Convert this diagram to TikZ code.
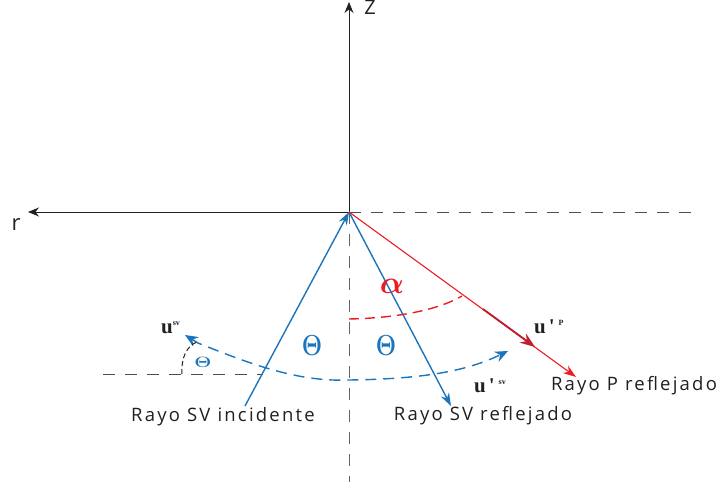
\RequirePackage{fix-cm}
\documentclass[tikz,border=0pt]{standalone}
\usepackage{amsmath}
\usepackage{fontspec}
\setmainfont{Open Sans}
\newfontfamily\serifu{Liberation Serif}
\usetikzlibrary{arrows.meta}
\definecolor{myblue}{HTML}{1B75BC}
\definecolor{myred}{HTML}{ED1C24}
\definecolor{mydred}{HTML}{BE1E2D}
\definecolor{axisc}{HTML}{231F20}
\begin{document}
\begin{tikzpicture}[x=1pt,y=-1pt,
  axis/.style={draw=axisc,line width=1pt,-{Stealth[length=11pt,width=9pt]}},
  guide/.style={draw=axisc!80,line width=1pt,dash pattern=on 12pt off 10pt},
  bluray/.style={draw=myblue,line width=1.4pt,-{Stealth[length=13pt,width=9pt]}},
  redray/.style={draw=myred,line width=1.1pt,-{Stealth[length=13pt,width=9pt]}},
  lbl/.style={font=\fontsize{18.5}{20}\selectfont\addfontfeatures{LetterSpace=12},text=axisc,inner sep=0pt},
  vec/.style={font=\serifu\bfseries\fontsize{21}{21}\selectfont,text=axisc,inner sep=0pt},
  bigth/.style={text=myblue,inner sep=0pt,font=\fontsize{29}{29}\selectfont}
]
\useasboundingbox (0,0) rectangle (725,489);
\coordinate (O) at (349,212);
\coordinate (Ztop) at (349,2);
\coordinate (rend) at (28,212);
\coordinate (dashR) at (700,212);
\coordinate (dashD) at (349,482);
\coordinate (inc) at (245,406);
\coordinate (refl) at (451,406);
\coordinate (pend) at (576,377);
\coordinate (uPa) at (483,309);
\coordinate (uPb) at (535,347);
\coordinate (hA) at (103,374);
\coordinate (hB) at (263,374);
\coordinate (usv) at (185,335);
\coordinate (usvB) at (508,351);
\coordinate (bot) at (349,380);
\coordinate (arcA) at (349,319);
\coordinate (arcB) at (462,296);
\coordinate (tA) at (182,374);
\coordinate (tB) at (197,342);

% axes
\draw[axis] (O) -- (Ztop);
\draw[axis] (O) -- (rend);
\draw[guide] (O) -- (dashR);
\draw[guide,draw=axisc!70] (O) -- (dashD);
\draw[guide] (hA) -- (hB);

% rays
\draw[bluray] (inc) -- (O);
\draw[bluray] (O) -- (refl);
\draw[redray] (O) -- (pend);
\draw[draw=mydred,line width=1.8pt,-{Stealth[length=15pt,width=11pt]}] (uPa) -- (uPb);

% angle arcs
\draw[myred,line width=1.4pt,dash pattern=on 10pt off 6pt] (arcA) .. controls (400,318) and (440,309) .. (arcB);
\draw[myblue,line width=1.4pt,dash pattern=on 11pt off 7pt,{Stealth[length=13pt,width=11pt]}-{Stealth[length=13pt,width=11pt]}]
  (usv) -- (198,343) .. controls (255,366) and (300,382) .. (bot) .. controls (420,379) and (465,372) .. (usvB);
\draw[axisc,line width=1pt,dash pattern=on 5pt off 3pt] (tA) .. controls (181,357) and (187,346) .. (tB);

% labels
\node[font=\fontsize{20}{20}\selectfont,text=axisc,inner sep=0pt] (zl) at (370,7) {Z};
\node[font=\fontsize{22}{22}\selectfont,text=axisc,inner sep=0pt] (rl) at (16,225) {r};
\node[lbl] (linc) at (223,417) {Rayo SV incidente};
\node[lbl] (lref) at (483,416) {Rayo SV reflejado};
\node[lbl] (lp) at (634,386) {Rayo P reflejado};
\node[vec,anchor=base west] (lusv) at (161,333) {u\raisebox{8pt}{\fontsize{8}{8}\selectfont sv}};
\node[vec,anchor=base west] (lup) at (534,333) {u\hspace{3pt}'\hspace{4pt}\raisebox{8pt}{\fontsize{8}{8}\selectfont P}};
\node[vec,anchor=base west] (lusv2) at (474,392) {u\hspace{3pt}'\hspace{4pt}\raisebox{8pt}{\fontsize{8}{8}\selectfont sv}};
\node[text=myred,inner sep=0pt,font=\fontsize{32}{32}\selectfont] (al) at (392,286) {$\boldsymbol{\alpha}$};
\node[bigth] (th1) at (312,346) {\scalebox{0.8}[1]{$\boldsymbol{\Theta}$}};
\node[bigth] (th2) at (386,346) {\scalebox{0.8}[1]{$\boldsymbol{\Theta}$}};
\node[text=myblue,inner sep=0pt,font=\fontsize{15}{15}\selectfont] (th3) at (203,362) {\scalebox{1.3}[1]{$\boldsymbol{\Theta}$}};
\end{tikzpicture}
\end{document}
